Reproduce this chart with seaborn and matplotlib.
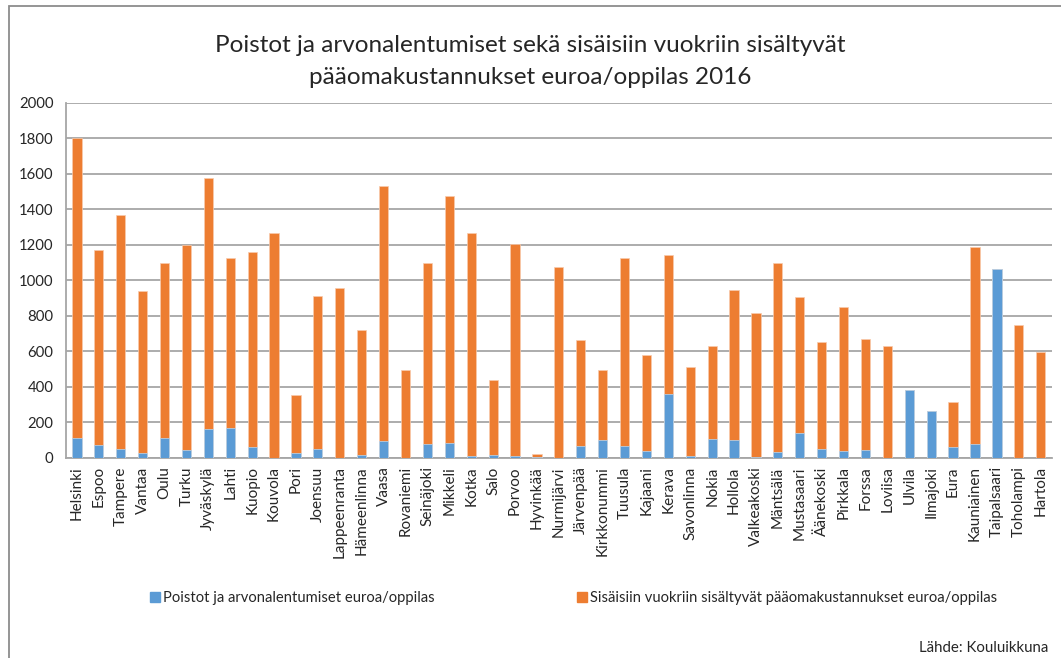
import numpy as np
import pandas as pd
import matplotlib.pyplot as plt
import seaborn as sns
from matplotlib.patches import Patch, Rectangle

# kunnat ja arvot (euroa/oppilas), luettu kuvasta
kunnat = ["Helsinki", "Espoo", "Tampere", "Vantaa", "Oulu", "Turku", "Jyväskylä",
          "Lahti", "Kuopio", "Kouvola", "Pori", "Joensuu", "Lappeenranta",
          "Hämeenlinna", "Vaasa", "Rovaniemi", "Seinäjoki", "Mikkeli", "Kotka",
          "Salo", "Porvoo", "Hyvinkää", "Nurmijärvi", "Järvenpää", "Kirkkonummi",
          "Tuusula", "Kajaani", "Kerava", "Savonlinna", "Nokia", "Hollola",
          "Valkeakoski", "Mäntsälä", "Mustasaari", "Äänekoski", "Pirkkala",
          "Forssa", "Loviisa", "Ulvila", "Ilmajoki", "Eura", "Kauniainen",
          "Taipalsaari", "Toholampi", "Hartola"]
poistot = [113, 73, 53, 28, 115, 47, 162, 168, 62, 0, 28, 53, 0,
           15, 94, 0, 77, 83, 11, 17, 9, 8, 0, 68, 104,
           66, 41, 358, 13, 107, 102, 3, 34, 141, 53, 41,
           43, 0, 383, 264, 64, 81, 1065, 2, 0]
yhteensa = [1800, 1170, 1370, 940, 1100, 1200, 1580, 1125, 1160, 1265, 355, 910, 955,
            722, 1531, 496, 1097, 1474, 1267, 441, 1205, 25, 1078, 665, 494,
            1124, 581, 1141, 513, 632, 945, 816, 1099, 907, 656, 850,
            671, 630, 383, 264, 317, 1186, 1065, 750, 596]
vuokrat = [t - p for t, p in zip(yhteensa, poistot)]

sarja1 = "Poistot ja arvonalentumiset euroa/oppilas"
sarja2 = "Sisäisiin vuokriin sisältyvät pääomakustannukset euroa/oppilas"
sininen = "#5B9BD5"
oranssi = "#ED7D31"
harmaa = "#A6A6A6"

df = pd.DataFrame({"kunta": kunnat, "poistot": poistot, "vuokrat": vuokrat})
df["yht"] = df["poistot"] + df["vuokrat"]

sns.set_style("white")
plt.rcParams["font.family"] = ["Lato", "DejaVu Sans"]

fig = plt.figure(figsize=(10.61, 6.58), dpi=100)
ax = fig.add_axes([0.0622, 0.304, 0.929, 0.5395])

# pinottu: ensin kokonaissumma oranssina, sitten poistot sinisenä päälle
sns.barplot(data=df, x="kunta", y="yht", color=oranssi, width=0.42,
            saturation=1, ax=ax, zorder=3, edgecolor="#F8CBAD", linewidth=0.5)
sns.barplot(data=df, x="kunta", y="poistot", color=sininen, width=0.42,
            saturation=1, ax=ax, zorder=4, edgecolor="#BDD7EE", linewidth=0.5)

ax.set_ylim(0, 2000)
ax.set_xlim(-0.5, len(kunnat) - 0.5)
ax.set_yticks(np.arange(0, 2001, 200))
ax.yaxis.grid(True, color=harmaa, linewidth=1.3, zorder=0)
ax.set_xlabel("")
ax.set_ylabel("")
ax.tick_params(axis="x", labelrotation=90, labelsize=11, length=0, pad=6)
ax.tick_params(axis="y", labelsize=10.7, length=5, color=harmaa, pad=4)
ax.set_xticks(np.arange(len(kunnat)) + 0.5, minor=True)
ax.tick_params(axis="x", which="minor", length=5, color=harmaa, width=1.3)
for s in ["top", "right"]:
    ax.spines[s].set_visible(False)
for s in ["left", "bottom"]:
    ax.spines[s].set_color(harmaa)
    ax.spines[s].set_linewidth(1.3)

fig.text(0.5, 1 - 45 / 658, "Poistot ja arvonalentumiset sekä sisäisiin vuokriin sisältyvät",
         ha="center", va="center", fontsize=17.5)
fig.text(0.5, 1 - 78 / 658, "pääomakustannukset euroa/oppilas 2016",
         ha="center", va="center", fontsize=17.5)

# selitteet erikseen, jotta niiden paikat osuvat kohdalleen
for vari, nimi, x0 in [(sininen, sarja1, 150), (oranssi, sarja2, 577)]:
    fig.legend(handles=[Patch(color=vari, label=nimi)], loc="center left",
               bbox_to_anchor=(x0 / 1061, 1 - 598 / 658), frameon=False,
               fontsize=10.6, handlelength=0.65, handleheight=0.65,
               handletextpad=0.25, borderpad=0, borderaxespad=0)

fig.text(1 - 13 / 1061, 1 - 648 / 658, "Lähde: Kouluikkuna", ha="right", va="center",
         fontsize=10.8)

# kehys koko kaavion ympärillä
fig.patches.append(Rectangle((9 / 1061, -0.1), 1.1, 1 - 6 / 658 + 0.1,
                             transform=fig.transFigure, fill=False,
                             edgecolor="#8C8C8C", linewidth=1.3))

fig.savefig("out.png", dpi=100)
